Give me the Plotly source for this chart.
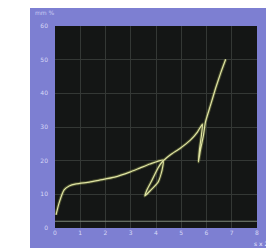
import plotly.graph_objects as go

# --- data ---
curve_x = [0.04, 0.16, 0.36, 0.56, 0.84, 1.36, 1.76, 2.36, 2.96, 3.36, 3.76, 4.28,
           4.24, 4.08, 3.76, 3.56, 3.64, 3.84, 4.08, 4.24,
           4.56, 4.96, 5.36, 5.64, 5.84,
           5.80, 5.72, 5.68, 5.76, 5.88, 5.96,
           6.16, 6.36, 6.56, 6.76]
curve_y = [3.9, 7.4, 11.3, 12.5, 13.1, 13.6, 14.2, 15.1, 16.6, 17.8, 19.0, 20.2,
           17.2, 13.6, 11.0, 9.5, 11.3, 14.2, 17.8, 19.6,
           21.7, 23.7, 26.1, 28.5, 30.9,
           27.6, 23.1, 19.6, 23.1, 27.6, 31.5,
           36.5, 41.5, 46.0, 50.1]
baseline_x = [0, 8]
baseline_y = [2, 2]
x_ticks = [0, 1, 2, 3, 4, 5, 6, 7, 8]
x_tick_labels = ["0", "1", "2", "3", "4", "5", "6", "7", "8"]
y_ticks = [0, 10, 20, 30, 40, 50, 60]
y_tick_labels = ["0", "10", "20", "30", "40", "50", "60"]

# page has an 8px body margin, so the figure is sized to fit the window
OFF = 8
W, H = 266, 240
L, R, T, B = 47, 17, 18, 20
pw, ph = W - L - R, H - T - B

def px(xpage):
    return (xpage - OFF - L) / pw

def py(ypage):
    return (H - B - (ypage - OFF)) / ph

fig = go.Figure()
fig.add_trace(go.Scatter(x=baseline_x, y=baseline_y, mode="lines",
                         line=dict(color="#7c8778", width=1.2), hoverinfo="skip"))
fig.add_trace(go.Scatter(x=curve_x, y=curve_y, mode="lines",
                         line=dict(color="rgba(190,200,100,0.3)", width=3.2, shape="spline", smoothing=0.5),
                         hoverinfo="skip"))
fig.add_trace(go.Scatter(x=curve_x, y=curve_y, mode="lines",
                         line=dict(color="#dfe3a2", width=1.2, shape="spline", smoothing=0.5)))

fig.add_shape(type="rect", xref="paper", yref="paper",
              x0=px(30), x1=px(275), y0=py(249), y1=py(5),
              fillcolor="#7d7fd2", line=dict(width=0), layer="below")
fig.add_shape(type="rect", xref="paper", yref="paper",
              x0=0, x1=1, y0=0, y1=1,
              fillcolor="#141615", line=dict(width=0), layer="below")

tickfont = dict(family="DejaVu Sans", size=6, color="#d6d8f6")
fig.update_layout(
    width=W, height=H,
    margin=dict(l=L, r=R, t=T, b=B, pad=0),
    paper_bgcolor="#ffffff",
    plot_bgcolor="#141615",
    showlegend=False,
    xaxis=dict(range=[0, 8], tickvals=x_ticks, ticktext=x_tick_labels,
               showgrid=True, gridcolor="#343835", gridwidth=1, zeroline=False,
               showline=False, ticks="", tickfont=tickfont),
    yaxis=dict(range=[0, 60], tickvals=y_ticks, ticktext=y_tick_labels,
               showgrid=True, gridcolor="#343835", gridwidth=1, zeroline=False,
               showline=False, ticks="", ticklabelstandoff=6, tickfont=tickfont),
    annotations=[
        dict(text="mm %", xref="paper", yref="paper", x=px(33), y=py(13),
             xanchor="left", yanchor="middle", showarrow=False,
             font=dict(family="DejaVu Sans", size=6, color="#c9cbf2")),
        dict(text="s x 2", xref="paper", yref="paper", x=px(270), y=py(243),
             xanchor="right", yanchor="middle", showarrow=False,
             font=dict(family="DejaVu Sans", size=6, color="#eeeeff")),
    ],
)

fig.write_html("out.html")
